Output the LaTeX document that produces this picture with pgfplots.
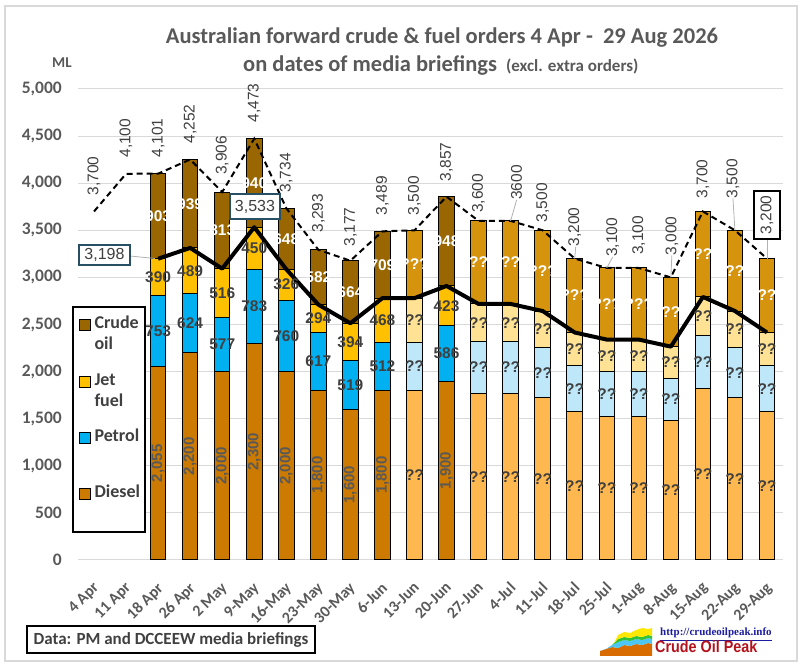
\documentclass[border=0pt]{standalone}
\usepackage{pgfplots}
\pgfplotsset{compat=1.18}
\usepackage{pgfplotstable}
\usepackage{graphicx}
\usepackage{fontspec}
\setmainfont{Carlito}
\newfontfamily\arial{Liberation Sans}
\newfontfamily\tnr{Liberation Serif}
\usetikzlibrary{calc}

\definecolor{cA}{RGB}{153,102,0}
\definecolor{cP}{RGB}{214,148,14}
\definecolor{jA}{RGB}{255,192,0}
\definecolor{jP}{RGB}{255,226,148}
\definecolor{pA}{RGB}{0,176,240}
\definecolor{pP}{RGB}{190,232,250}
\definecolor{dA}{RGB}{204,122,0}
\definecolor{dP}{RGB}{255,184,80}
\definecolor{tgray}{RGB}{89,89,89}
\definecolor{lgray}{RGB}{64,64,64}
\definecolor{gridc}{RGB}{217,217,217}
\definecolor{boxc}{RGB}{40,80,100}
\definecolor{linkblue}{RGB}{30,30,160}
\definecolor{logored}{RGB}{180,18,27}

\newcommand\fs[1]{\fontsize{#1}{#1}\selectfont}
% diesel rotated label
\newcommand\dl[3]{\node[rotate=90,font=\arial\bfseries\fs{15},text=tgray,inner sep=0pt] at (axis cs:#1,#2) {#3};}
% dark horizontal label
\newcommand\hl[3]{\node[font=\arial\bfseries\fs{15.5},text=lgray,inner sep=0pt] at (axis cs:#1,#2) {#3};}
% white label
\newcommand\wl[3]{\node[font=\arial\bfseries\fs{15.5},text=white,inner sep=0pt] at (axis cs:#1,#2) {#3};}
% total label
\newcommand\tl[5]{\node[rotate=90,anchor=west,font=\arial\fs{15.5},text=lgray,inner sep=0pt] at ($(axis cs:#1,#2)+(#3pt,#4pt)$) {#5};}

\pgfplotstableread{
x dA dP pA pP jA jP cA cP
2 2055 0 753 0 390 0 903 0
3 2200 0 624 0 489 0 939 0
4 2000 0 577 0 516 0 813 0
5 2300 0 783 0 450 0 940 0
6 2000 0 760 0 326 0 648 0
7 1800 0 617 0 294 0 582 0
8 1600 0 519 0 394 0 664 0
9 1800 0 512 0 468 0 709 0
10 0 1800 0 512 0 468 0 720
11 1900 0 586 0 423 0 948 0
12 0 1771 0 547 0 400 0 882
13 0 1771 0 547 0 400 0 882
14 0 1722 0 532 0 389 0 857
15 0 1574 0 486 0 355 0 785
16 0 1525 0 471 0 344 0 760
17 0 1525 0 471 0 344 0 760
18 0 1476 0 456 0 333 0 735
19 0 1820 0 562 0 411 0 907
20 0 1722 0 532 0 389 0 857
21 0 1574 0 486 0 355 0 785
}\bars

\pgfplotstableread{
x total sub
0 3700 nan
1 4100 nan
2 4101 3198
3 4252 3313
4 3906 3093
5 4473 3533
6 3734 3086
7 3293 2711
8 3177 2513
9 3489 2780
10 3500 2780
11 3857 2909
12 3600 2718
13 3600 2718
14 3500 2643
15 3200 2415
16 3100 2340
17 3100 2340
18 3000 2265
19 3700 2793
20 3500 2643
21 3200 2415
}\lines

\begin{document}
\begin{tikzpicture}
\path[use as bounding box] (0pt,0pt) rectangle (803pt,669pt);
\draw[draw=gridc, line width=1.2pt] (5pt,8pt) rectangle (797pt,663pt);

\begin{axis}[
  at={(78pt,109pt)}, anchor=south west,
  scale only axis, width=705pt, height=471pt,
  xmin=-0.5, xmax=21.5, ymin=0, ymax=5000,
  ybar stacked, bar width=15.5pt,
  axis line style={draw=none},
  ytick={0,500,...,5000},
  ymajorgrids, grid style={draw=gridc, line width=1pt},
  tick style={draw=none},
  /pgf/number format/assume math mode=true,
  /pgf/number format/1000 sep={,},
  scaled y ticks=false,
  yticklabel style={font=\bfseries\fs{17.5}, text=tgray, inner sep=0pt, xshift=-16pt},
  xtick={0,...,21},
  xticklabels={4 Apr, 11 Apr, 18 Apr, 26 Apr, 2 May, 9-May, 16-May, 23-May, 30-May, 6-Jun, 13-Jun, 20-Jun, 27-Jun, 4-Jul, 11-Jul, 18-Jul, 25-Jul, 1-Aug, 8-Aug, 15-Aug, 22-Aug, 29-Aug},
  xticklabel style={font=\bfseries\fs{16}, text=tgray, xshift=-2pt, yshift=-21pt, rotate=45, anchor=north east, inner sep=0pt},
  clip=false,
]
\addplot[fill=dA, draw=black, line width=1pt] table[x=x,y=dA]{\bars};
\addplot[fill=dP, draw=black, line width=1pt] table[x=x,y=dP]{\bars};
\addplot[fill=pA, draw=black, line width=1pt] table[x=x,y=pA]{\bars};
\addplot[fill=pP, draw=black, line width=1pt] table[x=x,y=pP]{\bars};
\addplot[fill=jA, draw=black, line width=1pt] table[x=x,y=jA]{\bars};
\addplot[fill=jP, draw=black, line width=1pt] table[x=x,y=jP]{\bars};
\addplot[fill=cA, draw=black, line width=1pt] table[x=x,y=cA]{\bars};
\addplot[fill=cP, draw=black, line width=1pt] table[x=x,y=cP]{\bars};
\end{axis}

\begin{axis}[
  at={(78pt,109pt)}, anchor=south west,
  scale only axis, width=705pt, height=471pt,
  xmin=-0.5, xmax=21.5, ymin=0, ymax=5000,
  hide axis, clip=false,
]
\addplot[black, line width=2pt, dash pattern=on 6pt off 4pt] table[x=x,y=total]{\lines};
\addplot[black, line width=4pt, line join=round] table[x=x,y=sub]{\lines};

% diesel labels
\dl{2}{1027}{2,055}\dl{3}{1100}{2,200}\dl{4}{1000}{2,000}\dl{5}{1150}{2,300}
\dl{6}{1000}{2,000}\dl{7}{900}{1,800}\dl{8}{800}{1,600}\dl{9}{900}{1,800}\dl{11}{950}{1,900}
\hl{10}{900}{??}\hl{12}{885}{??}\hl{13}{885}{??}\hl{14}{861}{??}\hl{15}{787}{??}
\hl{16}{762}{??}\hl{17}{762}{??}\hl{18}{738}{??}\hl{19}{910}{??}\hl{20}{861}{??}\hl{21}{787}{??}
% petrol labels
\hl{2}{2431}{753}\hl{3}{2512}{624}\hl{4}{2288}{577}\hl{5}{2691}{783}\hl{6}{2380}{760}
\hl{7}{2108}{617}\hl{8}{1859}{519}\hl{9}{2056}{512}\hl{11}{2193}{586}
\hl{10}{2056}{??}\hl{12}{2044}{??}\hl{13}{2044}{??}\hl{14}{1988}{??}\hl{15}{1817}{??}
\hl{16}{1760}{??}\hl{17}{1760}{??}\hl{18}{1704}{??}\hl{19}{2101}{??}\hl{20}{1988}{??}\hl{21}{1817}{??}
% jet labels
\hl{2}{3003}{390}\hl{3}{3068}{489}\hl{4}{2835}{516}\hl{5}{3308}{450}\hl{6}{2923}{326}
\hl{7}{2564}{294}\hl{8}{2316}{394}\hl{9}{2546}{468}\hl{11}{2697}{423}
\hl{10}{2546}{??}\hl{12}{2518}{??}\hl{13}{2518}{??}\hl{14}{2448}{??}\hl{15}{2237}{??}
\hl{16}{2168}{??}\hl{17}{2168}{??}\hl{18}{2098}{??}\hl{19}{2587}{??}\hl{20}{2448}{??}\hl{21}{2237}{??}
% crude labels
\wl{2}{3649}{903}\wl{3}{3782}{939}\wl{4}{3499}{813}\wl{5}{4003}{940}\wl{6}{3410}{648}
\wl{7}{3002}{582}\wl{8}{2845}{664}\wl{9}{3134}{709}\wl{11}{3383}{948}
\wl{10}{3140}{???}\wl{12}{3159}{??}\wl{13}{3159}{??}\wl{14}{3071}{???}\wl{15}{2807}{???}
\wl{16}{2720}{???}\wl{17}{2720}{???}\wl{18}{2632}{??}\wl{19}{3246}{??}\wl{20}{3071}{??}\wl{21}{2807}{??}
% total labels
\tl{0}{3700}{0}{16}{3,700}
\tl{1}{4100}{0}{16}{4,100}
\tl{2}{4101}{0}{16}{4,101}
\tl{3}{4252}{0}{16}{4,252}
\tl{4}{3906}{0}{17}{3,906}
\tl{5}{4473}{0}{16}{4,473}
\tl{6}{3734}{0}{16}{3,734}
\tl{7}{3293}{0}{17}{3,293}
\tl{8}{3177}{0}{14}{3,177}
\tl{9}{3489}{0}{16}{3,489}
\tl{10}{3500}{0}{15}{3,500}
\tl{11}{3857}{0}{15}{3,857}
\tl{12}{3600}{0}{8}{3,600}
\tl{13}{3600}{6}{21}{3600}
\tl{14}{3500}{0}{8}{3,500}
\tl{15}{3200}{0}{12}{3,200}
\tl{16}{3100}{6}{11}{3,100}
\tl{17}{3100}{0}{13}{3,100}
\tl{18}{3000}{1}{22}{3,000}
\tl{19}{3700}{0}{13}{3,700}
\tl{20}{3500}{-2}{32}{3,500}
\draw[gray!60, line width=0.8pt] (axis cs:13,3600) -- ++(6pt,21pt);
\draw[gray!60, line width=0.8pt] (axis cs:15,3200) -- ++(1pt,12pt);
\draw[gray!60, line width=0.8pt] (axis cs:16,3100) -- ++(6pt,11pt);
\draw[gray!60, line width=0.8pt] (axis cs:18,3000) -- ++(1pt,22pt);
\draw[gray!60, line width=0.8pt] (axis cs:20,3500) -- ++(-2pt,32pt);
\end{axis}

% boxed labels
\draw[gray!60, line width=0.8pt] (130pt,413pt) -- (155pt,410.5pt);
\node[draw=boxc, line width=1.2pt, fill=white, minimum width=51pt, minimum height=20pt, inner sep=0pt, font=\arial\fs{16}, text=lgray] at (104.5pt,414pt) {3,198};
\node[draw=boxc, line width=1.2pt, fill=white, minimum width=50pt, minimum height=25pt, inner sep=0pt, font=\arial\fs{16}, text=lgray] at (255pt,462.5pt) {3,533};
\draw[gray!60, line width=0.8pt] (767pt,430pt) -- (767pt,410.4pt);
\node[draw=black, line width=1.2pt, fill=white, rotate=90, minimum width=48pt, minimum height=26pt, inner sep=0pt, font=\arial\fs{15.5}, text=lgray] at (767pt,454pt) {3,200};

% legend
\draw[line width=1.2pt, fill=white] (73pt,137pt) rectangle (145pt,362pt);
\draw[fill=cA, line width=0.8pt] (79.5pt,339pt) rectangle (90.5pt,350pt);
\draw[fill=jA, line width=0.8pt] (79.5pt,282pt) rectangle (90.5pt,293pt);
\draw[fill=pA, line width=0.8pt] (79.5pt,226pt) rectangle (90.5pt,237pt);
\draw[fill=dA, line width=0.8pt] (79.5pt,170pt) rectangle (90.5pt,181pt);
\begin{scope}[every node/.style={anchor=base west, inner sep=0pt, font=\bfseries\fs{18}, text=lgray}]
\node at (94.3pt,340pt) {Crude};
\node at (94.3pt,319pt) {oil};
\node at (94.3pt,283pt) {Jet};
\node at (94.3pt,262pt) {fuel};
\node at (94.3pt,227pt) {Petrol};
\node at (94.3pt,171pt) {Diesel};
\end{scope}

% titles
\node[anchor=base, inner sep=0pt, font=\bfseries\fs{22.5}, text=tgray] at (442pt,625pt) {Australian forward crude \& fuel orders 4 Apr -\ \ 29 Aug 2026};
\node[anchor=base west, inner sep=0pt, font=\bfseries\fs{22.5}, text=tgray] at (243pt,597.5pt) {on dates of media briefings\hspace{9pt}{\fs{17}(excl. extra orders)}};
\node[anchor=base west, inner sep=0pt, font=\bfseries\fs{15}, text=tgray] at (52pt,601pt) {ML};

% data source box
\node[draw=black, line width=1.2pt, minimum width=288pt, minimum height=27pt, inner sep=0pt, font=\bfseries\fs{17}, text=lgray] at (171pt,29.5pt) {Data: PM and DCCEEW media briefings};

% logo
\fill[orange!85!black] (600pt,13pt) -- (600pt,18pt) -- (606pt,20pt) -- (612pt,22pt) -- (618pt,21pt) -- (624pt,24pt) -- (630pt,23pt) -- (636pt,25pt) -- (642pt,24pt) -- (648pt,26pt) -- (652pt,25pt) -- (652pt,13pt) -- cycle;
\fill[cyan!70] (600pt,18pt) -- (606pt,20pt) -- (612pt,24pt) -- (618pt,27pt) -- (624pt,29pt) -- (630pt,28pt) -- (636pt,30pt) -- (642pt,29pt) -- (648pt,31pt) -- (652pt,30pt) -- (652pt,25pt) -- (648pt,26pt) -- (642pt,24pt) -- (636pt,25pt) -- (630pt,23pt) -- (624pt,24pt) -- (618pt,21pt) -- (612pt,22pt) -- (606pt,20pt) -- cycle;
\fill[green!70!black!80] (612pt,24pt) -- (618pt,30pt) -- (624pt,32pt) -- (630pt,31pt) -- (636pt,33pt) -- (642pt,32pt) -- (648pt,34pt) -- (652pt,33pt) -- (652pt,30pt) -- (648pt,31pt) -- (642pt,29pt) -- (636pt,30pt) -- (630pt,28pt) -- (624pt,29pt) -- (618pt,27pt) -- cycle;
\fill[yellow!90!orange] (614pt,26pt) -- (618pt,34pt) -- (624pt,37pt) -- (630pt,36pt) -- (636pt,39pt) -- (642pt,41pt) -- (648pt,40pt) -- (652pt,41pt) -- (652pt,33pt) -- (648pt,34pt) -- (642pt,32pt) -- (636pt,33pt) -- (630pt,31pt) -- (624pt,32pt) -- (618pt,30pt) -- cycle;
\node[anchor=base west, inner sep=0pt, text=linkblue, font=\tnr\bfseries\fs{11}] at (660pt,33pt) {\underline{http://crudeoilpeak.info}};
\node[anchor=base west, inner sep=0pt, text=logored, font=\arial\bfseries\fs{16.5}] at (655pt,16pt) {\scalebox{0.87}[1]{Crude Oil Peak}};
\end{tikzpicture}
\end{document}
